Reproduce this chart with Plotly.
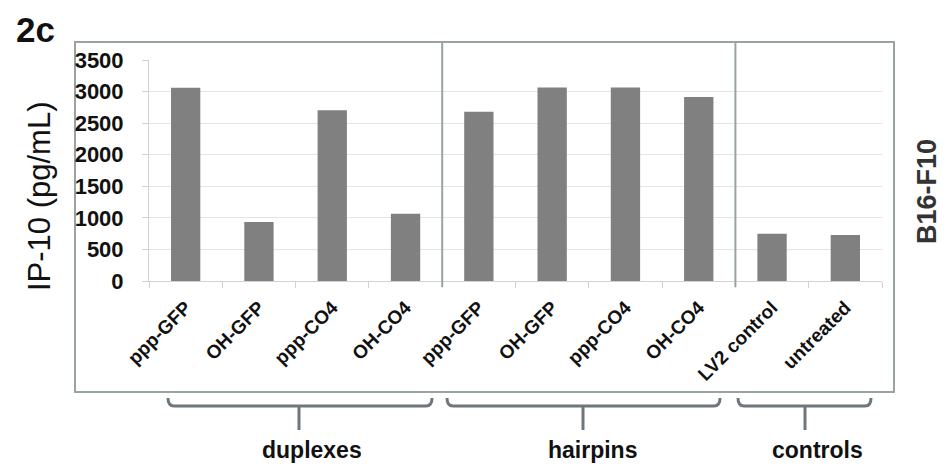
import plotly.graph_objects as go

# ---- data ----
categories = ["ppp-GFP", "OH-GFP", "ppp-CO4", "OH-CO4",
              "ppp-GFP", "OH-GFP", "ppp-CO4", "OH-CO4",
              "LV2 control", "untreated"]
values = [3060, 935, 2705, 1065, 2680, 3065, 3065, 2915, 750, 730]
groups = ["duplexes", "hairpins", "controls"]
group_spans = [(0, 3), (4, 7), (8, 9)]
y_ticks = [0, 500, 1000, 1500, 2000, 2500, 3000, 3500]

# the page body has an 8px margin, so the figure is drawn 8px right/down
OFF = 8
W, H = 950 - OFF, 466 - OFF
L, R, T, B = 149 - OFF, 882 - OFF, 60 - OFF, 281 - OFF  # plot area in figure pixels
FONT = "Arial, Liberation Sans, sans-serif"

def px(xp):
    """screen x pixel -> paper x"""
    return (xp - OFF - L) / (R - L)

def py(yp):
    """screen y pixel -> paper y"""
    return (B - (yp - OFF)) / (B - T)

x_idx = list(range(len(categories)))

fig = go.Figure()
fig.add_trace(go.Bar(
    x=x_idx, y=values, width=0.4,
    marker=dict(color="#808080", line=dict(width=0)),
    hoverinfo="y", showlegend=False,
))

fig.update_layout(
    width=W, height=H,
    margin=dict(l=L, r=W - R, t=T, b=H - B, autoexpand=False),
    paper_bgcolor="white", plot_bgcolor="white",
    font=dict(family=FONT, color="#111111"),
    xaxis=dict(
        range=[-0.5, len(categories) - 0.5],
        tickmode="array", tickvals=x_idx, ticktext=categories,
        tickangle=-45, ticks="",
        tickfont=dict(family=FONT, size=19, color="#111111", weight="bold"),
        ticklabelstandoff=7,
        showgrid=False, zeroline=False,
        showline=True, linecolor="#d2d2d2", linewidth=1,
        minor=dict(tick0=0.5, dtick=1, ticks="outside", ticklen=6,
                   tickcolor="#d2d2d2", tickwidth=1, showgrid=False),
    ),
    yaxis=dict(
        range=[0, 3500], tickmode="array", tickvals=y_ticks,
        ticks="outside", ticklen=6, tickcolor="#d2d2d2",
        tickfont=dict(family=FONT, size=22, color="#111111", weight="bold"),
        ticklabelstandoff=14,
        showgrid=True, gridcolor="#e4e4e4", gridwidth=1,
        zeroline=False, showline=True, linecolor="#d2d2d2", linewidth=1,
    ),
)

border = "#9aa3a4"
# outer frame
fig.add_shape(type="rect", xref="paper", yref="paper",
              x0=px(75), x1=px(894), y0=py(392), y1=py(42),
              line=dict(color=border, width=2), layer="below")
# group separators
for sep in [group_spans[0][1] + 0.5, group_spans[1][1] + 0.5]:
    fig.add_shape(type="line", xref="x", yref="paper",
                  x0=sep, x1=sep, y0=py(287), y1=py(42),
                  line=dict(color=border, width=2))

# brackets below the frame
brackets_px = [(168, 432, 299), (447, 720, 583), (738, 871, 805)]
label_px = [312, 592, 817]
bc = "#6e777c"
for (x0, x1, xs), name, lx in zip(brackets_px, groups, label_px):
    yb, ye, ys = 406, 398, 430
    path = (f"M {px(x0)},{py(ye)} Q {px(x0)},{py(yb)} {px(x0 + 6)},{py(yb)} "
            f"L {px(x1 - 6)},{py(yb)} Q {px(x1)},{py(yb)} {px(x1)},{py(ye)}")
    fig.add_shape(type="path", xref="paper", yref="paper", path=path,
                  line=dict(color=bc, width=3))
    fig.add_shape(type="line", xref="paper", yref="paper",
                  x0=px(xs), x1=px(xs), y0=py(yb), y1=py(ys),
                  line=dict(color=bc, width=3))
    fig.add_annotation(text=name, xref="paper", yref="paper",
                       x=px(lx), y=py(450), xanchor="center", yanchor="middle",
                       showarrow=False,
                       font=dict(family=FONT, size=23, color="#111111", weight="bold"))

# titles
fig.add_annotation(text="2c", xref="paper", yref="paper",
                   x=px(14), y=py(29), xanchor="left", yanchor="middle",
                   showarrow=False,
                   font=dict(family=FONT, size=35, color="#111111", weight="bold"))
fig.add_annotation(text="IP-10 (pg/mL)", xref="paper", yref="paper",
                   x=px(39), y=py(196), xanchor="center", yanchor="middle",
                   textangle=-90, showarrow=False,
                   font=dict(family=FONT, size=31, color="#111111"))
fig.add_annotation(text="B16-F10", xref="paper", yref="paper",
                   x=px(927), y=py(192), xanchor="center", yanchor="middle",
                   textangle=-90, showarrow=False,
                   font=dict(family=FONT, size=27, color="#333333", weight="bold"))

fig.write_html("out.html")
